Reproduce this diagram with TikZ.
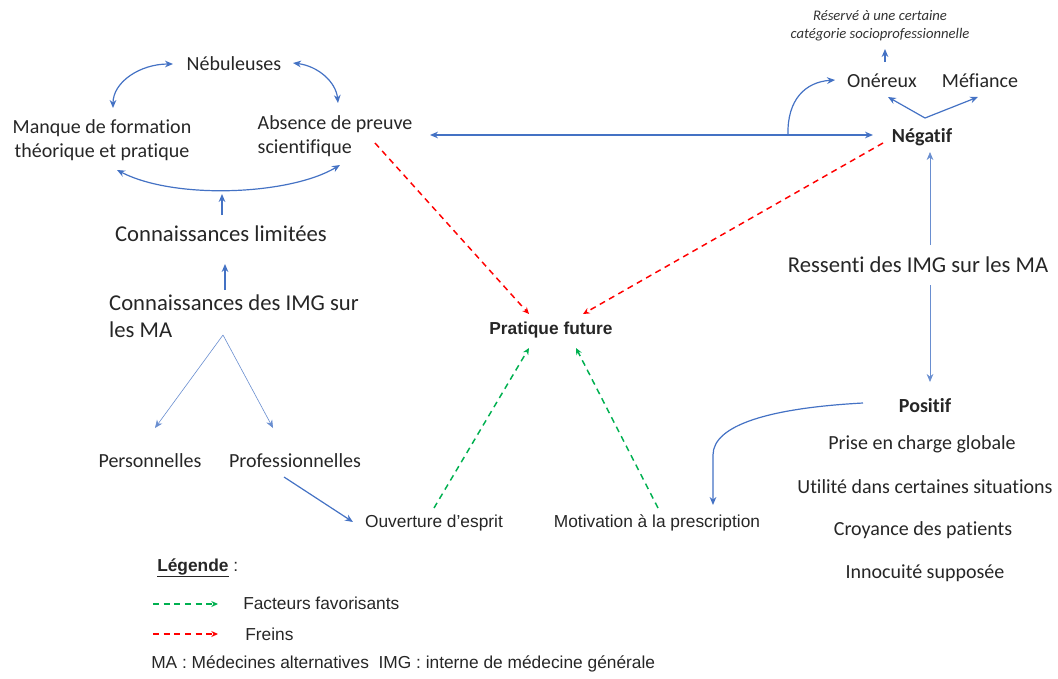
\documentclass[tikz,border=0pt]{standalone}
\usepackage{fontspec}
\setmainfont{Carlito}[Ligatures={NoCommon}]
\newfontfamily\arialf{Liberation Sans}
\usetikzlibrary{arrows.meta,calc}
\definecolor{ablue}{HTML}{4472C4}
\definecolor{agreen}{HTML}{00B050}
\definecolor{ared}{HTML}{FF0000}
\tikzset{
  lbl/.style={inner sep=0pt, font=\fontsize{15}{18}\selectfont, text=black!85},
  big/.style={inner sep=0pt, font=\fontsize{17}{20.3}\selectfont, text=black!85},
  ari/.style={inner sep=0pt, font=\arialf\fontsize{13}{15}\selectfont, text=black!85},
  arr/.style={draw=ablue, line width=0.9pt, -{Stealth[length=6pt,width=5pt]}},
  darr/.style={draw=ablue, line width=0.9pt, {Stealth[length=6pt,width=5pt]}-{Stealth[length=6pt,width=5pt]}},
  thinarr/.style={draw=ablue!80, line width=0.45pt, -{Stealth[length=6pt,width=5pt]}},
  fav/.style={draw=agreen, line width=1.1pt, dash pattern=on 4.5pt off 3.5pt, -{Stealth[length=5pt,width=4.5pt]}},
  frein/.style={draw=ared, line width=1.1pt, dash pattern=on 4.5pt off 3.5pt, -{Stealth[length=5pt,width=4.5pt]}},
}
\begin{document}
\begin{tikzpicture}[x=0.75pt,y=-0.75pt]
\useasboundingbox (0,0) rectangle (1058,679);
% nodes
\node[inner sep=0pt, align=center, font=\itshape\fontsize{11}{13.5}\selectfont, text=black!80] (res) at (880,26) {Réservé à une certaine\\catégorie socioprofessionnelle};
\node[lbl] (oner) at (882,81) {Onéreux};
\node[lbl] (mef) at (980,81) {Méfiance};
\node[lbl, font=\bfseries\fontsize{15}{18}\selectfont] (neg) at (922,137) {Négatif};
\node[lbl] (neb) at (234,64) {Nébuleuses};
\node[lbl, align=center] (manque) at (102,140) {Manque de formation\\théorique et pratique};
\node[lbl, align=left] (absence) at (335,136) {Absence de preuve\\scientifique};
\node[big] (climit) at (221,234) {Connaissances limitées};
\node[big, align=left] (cimg) at (234,316) {Connaissances des IMG sur\\les MA};
\node[lbl] (perso) at (150,461) {Personnelles};
\node[lbl] (prof) at (295,461) {Professionnelles};
\node[ari] (ouv) at (434,523) {Ouverture d’esprit};
\node[ari] (motiv) at (657,523) {Motivation à la prescription};
\node[ari, font=\arialf\bfseries\fontsize{13}{15}\selectfont] (prat) at (551,330) {Pratique future};
\node[big] (ress) at (918,265) {Ressenti des IMG sur les MA};
\node[lbl, font=\bfseries\fontsize{15}{18}\selectfont] (pos) at (925,406) {Positif};
\node[lbl] (p1) at (922,444) {Prise en charge globale};
\node[lbl] (p2) at (925,487) {Utilité dans certaines situations};
\node[lbl] (p3) at (923,530) {Croyance des patients};
\node[lbl] (p4) at (925,573) {Innocuité supposée};
% legend
\node[ari, anchor=west, font=\arialf\bfseries\fontsize{13}{15}\selectfont] (leg) at (157,568) {\underline{Légende} \mdseries:};
\node[ari, anchor=west] (fac) at (243,603) {Facteurs favorisants};
\node[ari, anchor=west] (fre) at (245,634) {Freins};
\node[ari, anchor=west] (ma) at (151,664) {MA : Médecines alternatives\ \ IMG : interne de médecine générale};
\draw[fav] ($(fac.west)+(-90,1)$) -- ($(fac.west)+(-25,1)$);
\draw[frein] ($(fre.west)+(-92,0)$) -- ($(fre.west)+(-27,0)$);
% top right
\draw[arr] ($(oner)+(3,-19)$) -- ($(res)+(5,23)$);
\coordinate (nsplit) at ($(neg)+(3,-19)$);
\draw[arr] (nsplit) -- ($(oner)+(6,16)$);
\draw[arr] (nsplit) -- ($(mef)+(-2,16)$);
\draw[darr] ($(absence)+(95,-1)$) -- ($(neg)+(-49,-2)$);
\coordinate (branch) at (788,135);
\draw[arr] (branch) .. controls (787,100) and (805,82) .. ($(oner)+(-47,-1)$);
% top left cycle
\draw[darr] ($(neb)+(-61,0)$) .. controls (140,64) and (113,82) .. ($(manque)+(11,-32)$);
\draw[darr] ($(neb)+(59,-1)$) .. controls (318,66) and (336,82) .. ($(absence)+(3,-33)$);
\draw[darr] ($(manque)+(15,30)$) .. controls (175,200) and (290,195) .. ($(absence)+(5,29)$);
\coordinate (curvemid) at (222,194);
\draw[arr] ($(climit)+(1,-19)$) -- (curvemid);
\draw[arr] ($(cimg)+(-9,-26)$) -- ($(climit)+(4,30)$);
% branches
\coordinate (apex) at ($(cimg)+(-11,19)$);
\draw[thinarr] (apex) -- ($(perso)+(5,-33)$);
\draw[thinarr] (apex) -- ($(prof)+(-22,-33)$);
\draw[arr] ($(prof)+(-11,16)$) -- ($(ouv)+(-81,-1)$);
% dashed
\draw[fav] ($(ouv)+(0,-15)$) -- ($(prat)+(-22,18)$);
\draw[fav] ($(motiv)+(1,-15)$) -- ($(prat)+(25,18)$);
\draw[frein] ($(absence)+(40,7)$) -- ($(prat)+(-22,-16)$);
\draw[frein] ($(neg)+(-39,6)$) -- ($(prat)+(32,-16)$);
% right side
\draw[thinarr, line width=0.6pt] ($(ress)+(12,-20)$) -- ($(neg)+(8,15)$);
\draw[thinarr, line width=0.6pt] ($(ress)+(12,20)$) -- ($(pos)+(5,-24)$);
\draw[arr] ($(pos)+(-62,-3)$) .. controls (770,408) and (713,425) .. (713,455) -- ($(motiv)+(56,-18)$);
\end{tikzpicture}
\end{document}
